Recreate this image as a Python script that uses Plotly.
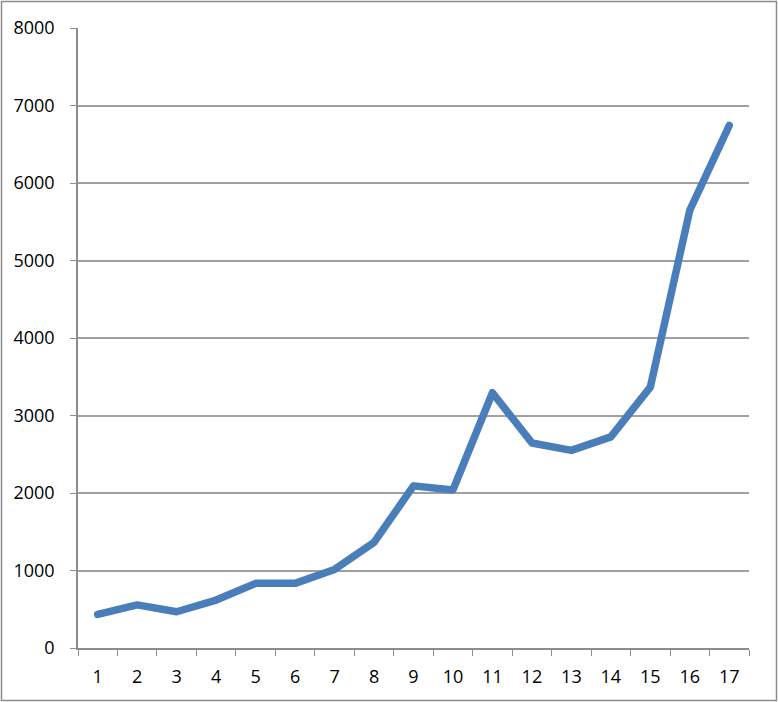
import plotly.graph_objects as go

categories = [str(i) for i in range(1, 18)]
values = [434, 556, 468, 619, 834, 834, 1014, 1362, 2092, 2040, 3294, 2646, 2550, 2724, 3367, 5648, 6742]
y_ticks = [0, 1000, 2000, 3000, 4000, 5000, 6000, 7000, 8000]

W, H = 778, 702
ml, mr, mt, mb = 78, 29, 28, 54
pw, ph = W - ml - mr, H - mt - mb

fig = go.Figure(go.Scatter(
    x=categories, y=values, mode="lines",
    line=dict(color="#4A7EBB", width=7.5),
    hoverinfo="skip",
))

font = dict(family="'Open Sans', Lato, sans-serif", size=18, color="#000000")

fig.update_layout(
    width=W, height=H,
    margin=dict(l=ml, r=mr, t=mt, b=mb, autoexpand=False),
    paper_bgcolor="white", plot_bgcolor="white",
    showlegend=False,
    font=font,
    xaxis=dict(
        type="category", range=[-0.5, 16.5], tickson="boundaries", ticks="outside", ticklen=6,
        tickcolor="#8c8c8c", showgrid=False, showline=True, linecolor="#8c8c8c",
        linewidth=1.5, zeroline=False, tickfont=font, ticklabelstandoff=12,
        automargin=False,
    ),
    yaxis=dict(
        range=[0, 8000], tickvals=y_ticks, ticks="outside", ticklen=6,
        tickcolor="#8c8c8c", showgrid=True, gridcolor="#a0a0a0", gridwidth=1.5,
        showline=True, linecolor="#8c8c8c", linewidth=1.5, zeroline=False,
        tickfont=font, ticklabelstandoff=12, automargin=False,
    ),
    shapes=[dict(
        type="rect", xref="paper", yref="paper",
        x0=(1.5 - ml) / pw, x1=(776.5 - ml) / pw,
        y0=(H - 700.5 - mb) / ph,
        y1=(H - 1.5 - mb) / ph,
        line=dict(color="#8c8c8c", width=1.5), layer="below",
    )],
)

fig.write_html(
    "out.html",
    config={"displayModeBar": False},
    post_script="document.body.style.margin='0';document.body.style.overflow='hidden';"
                "document.querySelectorAll('.scatterlayer path.js-line').forEach(function(p){p.style.strokeLinecap='round';p.style.strokeLinejoin='round';});",
)
